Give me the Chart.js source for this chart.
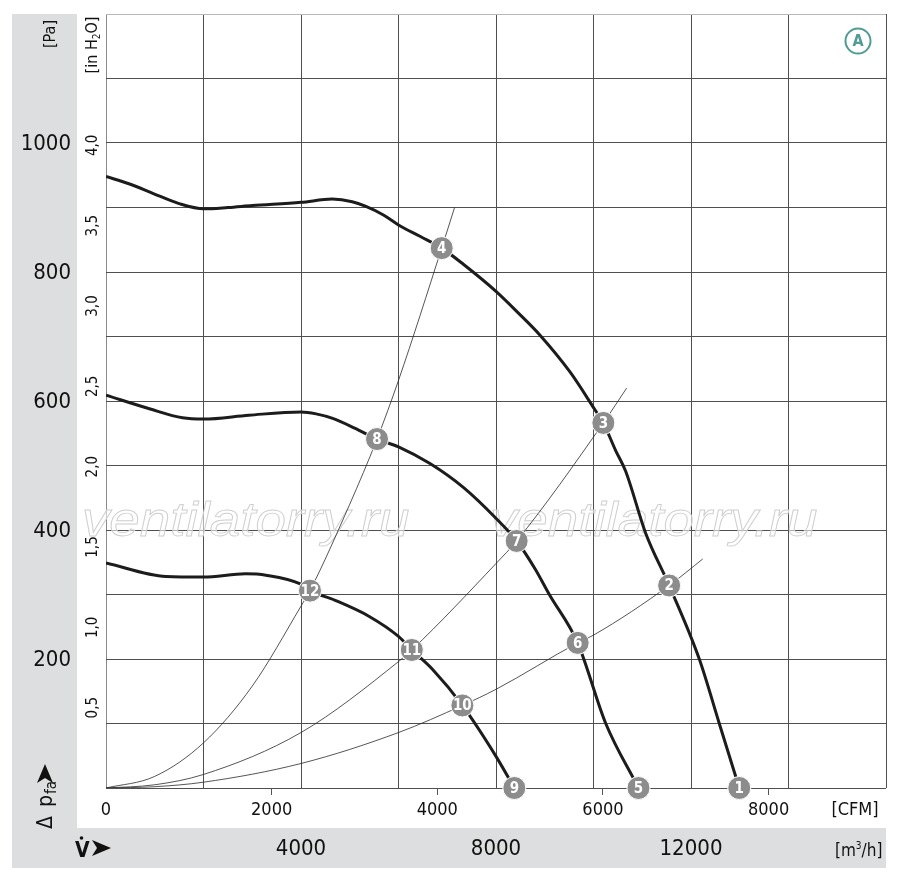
<!DOCTYPE html>
<html>
<head>
<meta charset="utf-8">
<title>Fan curve</title>
<script src="https://cdn.jsdelivr.net/npm/chart.js@4.4.1/dist/chart.umd.min.js"></script>
<style>
  html, body { margin: 0; padding: 0; background: #fff; }
  #wrap { width: 900px; height: 880px; }
</style>
</head>
<body>
<div id="wrap"><canvas id="fanChart" width="900" height="880"></canvas></div>
<script>
// fan curves, flow in m3/h, pressure in Pa
const curve1Flow = [0, 500, 960, 1500, 2000, 2500, 3000, 4000, 4640, 5050, 5320, 5700, 6000, 6450, 6886, 7330, 8000, 8450, 8903, 9518, 10016, 10202, 10450, 10660, 11070, 11552, 12170, 12580, 12990];
const curve1Pa   = [948, 936, 922, 906, 898, 900, 903, 908, 913, 909, 902, 888, 873, 855, 837, 812, 770, 737, 702, 645, 588, 566, 524, 491, 395, 314, 200, 100, 0];

const curve2Flow = [0, 890, 1570, 2000, 2930, 4000, 4310, 4650, 5100, 5559, 6000, 6646, 7330, 8014, 8424, 8800, 9094, 9675, 10251, 10923];
const curve2Pa   = [609, 588, 574, 572, 578, 583, 580, 573, 558, 541, 529, 503, 466, 417, 383, 340, 300, 225, 100, 0];

const curve3Flow = [0, 1230, 2000, 2860, 3280, 4000, 4184, 4700, 5400, 6000, 6273, 6696, 7310, 8000, 8376];
const curve3Pa   = [349, 328, 327, 332, 330, 316, 306, 291, 266, 235, 214, 184, 128, 49, 0];

// system (resistance) curves
const sysAFlow = [0, 1000, 2000, 3000, 4000, 4184, 5000, 5559, 6000, 6886, 7150];
const sysAPa   = [0, 18, 70, 158, 282, 306, 440, 541, 632, 837, 900];
const sysBFlow = [0, 1000, 2000, 4000, 6000, 6273, 8000, 8424, 10202, 10680];
const sysBPa   = [0, 5, 21, 86, 196, 214, 348, 383, 566, 620];
const sysCFlow = [0, 1000, 2000, 4000, 6000, 7310, 8000, 9675, 10000, 11552, 12240];
const sysCPa   = [0, 2, 9, 38, 86, 128, 153, 225, 237, 314, 355];

// numbered operating points
const pointLabels = ['1', '2', '3', '4', '5', '6', '7', '8', '9', '10', '11', '12'];
const pointFlow   = [12990, 11552, 10202, 6886, 10923, 9675, 8424, 5559, 8376, 7310, 6273, 4184];
const pointPa     = [0, 314, 566, 837, 0, 225, 383, 541, 0, 128, 214, 306];

// axes
const gridFlow = [0, 2000, 4000, 6000, 8000, 10000, 12000, 14000, 16000];
const gridPa = [0, 100, 200, 300, 400, 500, 600, 700, 800, 900, 1000, 1100, 1200];
const paLabels = [200, 400, 600, 800, 1000];
const inH2OValues = [0.5, 1.0, 1.5, 2.0, 2.5, 3.0, 3.5, 4.0];
const inH2OText = ['0,5', '1,0', '1,5', '2,0', '2,5', '3,0', '3,5', '4,0'];
const cfmTicks = [0, 2000, 4000, 6000, 8000];
const m3hLabels = [4000, 8000, 12000];

const M3H_PER_CFM = 1.699;
const PA_PER_INH2O = 249.09;
const FONT = "'Liberation Sans Narrow', 'DejaVu Sans Condensed', 'Liberation Sans', sans-serif";

function pts(xs, ys) {
  return xs.map((x, i) => ({ x: x, y: ys[i] }));
}

function fanLine(xs, ys) {
  return {
    data: pts(xs, ys), showLine: true, pointRadius: 0,
    borderColor: '#1c1c1c', borderWidth: 3, cubicInterpolationMode: 'monotone', order: 1
  };
}

function sysLine(xs, ys) {
  return {
    data: pts(xs, ys), showLine: true, pointRadius: 0,
    borderColor: '#2a2a2a', borderWidth: 0.8, cubicInterpolationMode: 'monotone', order: 2
  };
}

const panelPlugin = {
  id: 'panel',
  beforeDraw(chart) {
    const c = chart.ctx;
    c.save();
    c.fillStyle = '#fff';
    c.fillRect(0, 0, chart.width, chart.height);
    c.fillStyle = '#dddedf';
    c.fillRect(12, 14, 65, 854);
    c.fillRect(12, 828, 874, 40);
    c.restore();
  },
  beforeDatasetsDraw(chart) {
    // watermark
    const c = chart.ctx;
    c.save();
    c.font = "italic 48px 'Liberation Sans', sans-serif";
    c.textBaseline = 'alphabetic';
    c.lineWidth = 0.9;
    c.fillStyle = 'rgba(255,255,255,0.55)';
    c.strokeStyle = '#cfcfcf';
    [82, 490].forEach(x => {
      c.save();
      c.translate(x, 536);
      c.scale(1.14, 1);
      c.fillText('ventilatorry.ru', 0, 0);
      c.strokeText('ventilatorry.ru', 0, 0);
      c.restore();
    });
    c.restore();
  }
};

const textPlugin = {
  id: 'texts',
  afterDatasetsDraw(chart) {
    const c = chart.ctx;
    const xs = chart.scales.x, ys = chart.scales.y;
    c.save();

    // point numbers
    const meta = chart.getDatasetMeta(chart.data.datasets.length - 1);
    c.fillStyle = '#fff';
    c.font = 'bold 15px ' + FONT;
    c.textAlign = 'center';
    c.textBaseline = 'middle';
    meta.data.forEach((el, i) => c.fillText(pointLabels[i], el.x, el.y + 1));

    c.fillStyle = '#111';
    // Pa labels
    c.font = '22px ' + FONT;
    c.textAlign = 'right';
    paLabels.forEach(v => c.fillText(String(v), 71, ys.getPixelForValue(v) + 1));

    // inH2O labels, rotated
    c.font = '15px ' + FONT;
    inH2OValues.forEach((v, i) => {
      c.save();
      c.translate(97, ys.getPixelForValue(v * PA_PER_INH2O));
      c.rotate(-Math.PI / 2);
      c.textAlign = 'center';
      c.textBaseline = 'alphabetic';
      c.fillText(inH2OText[i], 0, 0);
      c.restore();
    });

    // [Pa]
    c.save();
    c.translate(55, 34);
    c.rotate(-Math.PI / 2);
    c.font = '16px ' + FONT;
    c.textAlign = 'center';
    c.textBaseline = 'alphabetic';
    c.fillText('[Pa]', 0, 0);
    c.restore();

    // [in H2O]
    c.save();
    c.translate(97, 45);
    c.rotate(-Math.PI / 2);
    c.textBaseline = 'alphabetic';
    c.textAlign = 'left';
    const big = '16px ' + FONT, small = '10px ' + FONT;
    c.font = big; const w1 = c.measureText('[in H').width; const w3 = c.measureText('O]').width;
    c.font = small; const w2 = c.measureText('2').width;
    let lx = -(w1 + w2 + w3) / 2;
    c.font = big; c.fillText('[in H', lx, 0); lx += w1;
    c.font = small; c.fillText('2', lx, 3); lx += w2;
    c.font = big; c.fillText('O]', lx, 0);
    c.restore();

    // CFM labels
    c.font = '18px ' + FONT;
    c.textAlign = 'center';
    c.textBaseline = 'middle';
    cfmTicks.forEach(v => c.fillText(String(v), xs.getPixelForValue(v * M3H_PER_CFM), 810));
    c.fillText('[CFM]', 855, 810);

    // m3/h labels
    c.font = '22px ' + FONT;
    m3hLabels.forEach(v => c.fillText(String(v), xs.getPixelForValue(v), 849));
    c.font = '17px ' + FONT;
    c.textAlign = 'left';
    c.textBaseline = 'alphabetic';
    c.fillText('[m', 835, 856);
    let mx = 835 + c.measureText('[m').width;
    c.font = '10px ' + FONT;
    c.fillText('3', mx, 849);
    mx += c.measureText('3').width;
    c.font = '17px ' + FONT;
    c.fillText('/h]', mx, 856);

    // V-dot with arrow
    c.font = 'bold 21px ' + FONT;
    c.textAlign = 'left';
    c.fillText('V', 75, 857);
    c.beginPath();
    c.arc(81.5, 838, 1.8, 0, Math.PI * 2);
    c.fill();
    c.beginPath();
    c.moveTo(111, 848); c.lineTo(92, 840); c.lineTo(97, 848); c.lineTo(92, 856);
    c.closePath(); c.fill();

    // delta p_fa rotated with arrow
    c.save();
    c.translate(45, 829);
    c.rotate(-Math.PI / 2);
    c.textBaseline = 'alphabetic';
    c.textAlign = 'left';
    c.font = '21px ' + FONT;
    c.fillText('\u0394', 0, 7);
    c.fillText('p', 22, 7);
    const pw = c.measureText('p').width;
    c.font = '15px ' + FONT;
    c.fillText('fa', 22 + pw + 1, 11);
    c.restore();
    c.beginPath();
    c.moveTo(45, 764); c.lineTo(53, 783); c.lineTo(45, 778); c.lineTo(37, 783);
    c.closePath(); c.fill();

    // A badge
    c.strokeStyle = '#4e9c94';
    c.fillStyle = '#4e9c94';
    c.lineWidth = 2;
    c.beginPath();
    c.arc(858, 41, 12.5, 0, Math.PI * 2);
    c.stroke();
    c.font = 'bold 16px ' + FONT;
    c.textAlign = 'center';
    c.textBaseline = 'middle';
    c.fillText('A', 858, 42);

    c.restore();
  }
};

const datasets = [
  fanLine(curve1Flow, curve1Pa),
  fanLine(curve2Flow, curve2Pa),
  fanLine(curve3Flow, curve3Pa),
  sysLine(sysAFlow, sysAPa),
  sysLine(sysBFlow, sysBPa),
  sysLine(sysCFlow, sysCPa),
  {
    data: pts(pointFlow, pointPa), showLine: false,
    pointRadius: 11.5, pointBackgroundColor: '#8c8c8c',
    pointBorderColor: '#ffffff', pointBorderWidth: 1,
    clip: false, order: 0
  }
];

const fanChart = new Chart(document.getElementById('fanChart'), {
  type: 'scatter',
  data: { datasets: datasets },
  options: {
    responsive: false,
    animation: false,
    events: [],
    layout: { padding: { left: 106, right: 14, top: 14, bottom: 85 } },
    plugins: { legend: { display: false }, tooltip: { enabled: false } },
    scales: {
      x: {
        type: 'linear', min: 0, max: 16000,
        afterBuildTicks: s => { s.ticks = gridFlow.map(v => ({ value: v })); },
        ticks: { display: false },
        grid: { drawTicks: false, lineWidth: 1, color: ctx => ctx.tick && ctx.tick.value === 0 ? '#8a8a8a' : '#4f4f4f' },
        border: { display: false }
      },
      xc: {
        type: 'linear', position: 'bottom', min: 0, max: 16000 / M3H_PER_CFM,
        afterBuildTicks: s => { s.ticks = cfmTicks.slice(1).map(v => ({ value: v })); },
        ticks: { display: false },
        grid: { drawOnChartArea: false, drawTicks: true, tickLength: 7, color: '#555', lineWidth: 1 },
        border: { display: false }
      },
      y: {
        type: 'linear', min: 0, max: 1200,
        afterBuildTicks: s => { s.ticks = gridPa.map(v => ({ value: v })); },
        ticks: { display: false },
        grid: { drawTicks: false, lineWidth: 1, color: ctx => ctx.tick && ctx.tick.value === 1200 ? '#b8b8b8' : '#4f4f4f' },
        border: { display: false }
      }
    }
  },
  plugins: [panelPlugin, textPlugin]
});
</script>
</body>
</html>
